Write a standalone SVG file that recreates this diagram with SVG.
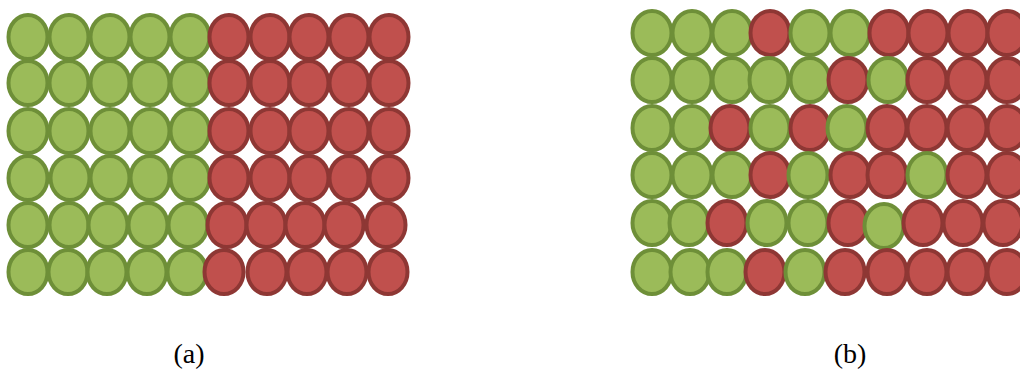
<svg xmlns="http://www.w3.org/2000/svg" width="1020" height="386" viewBox="0 0 1020 386">
<style>
.g{fill:#9BBB59;stroke:#6E8F38;stroke-width:4}
.r{fill:#C0504D;stroke:#8E3734;stroke-width:4}
ellipse{}
.lbl{font-family:"Liberation Serif","Times New Roman",serif;font-size:28px;fill:#000;text-anchor:middle}
</style>
<rect width="1020" height="386" fill="#fff"/>
<g id="panel-a">
<g id="a-row1">
<ellipse class="g" cx="28" cy="37" rx="19.5" ry="22"/><ellipse class="g" cx="69" cy="37" rx="19.5" ry="22"/><ellipse class="g" cx="110" cy="37" rx="19.5" ry="22"/><ellipse class="g" cx="150" cy="37" rx="19.5" ry="22"/><ellipse class="g" cx="190" cy="37" rx="19.5" ry="22"/>
<ellipse class="r" cx="229" cy="37" rx="19.5" ry="22"/><ellipse class="r" cx="270" cy="37" rx="19.5" ry="22"/><ellipse class="r" cx="309" cy="37" rx="19.5" ry="22"/><ellipse class="r" cx="349" cy="37" rx="19.5" ry="22"/><ellipse class="r" cx="389" cy="37" rx="19.5" ry="22"/>
</g>
<g id="a-row2">
<ellipse class="g" cx="28" cy="83" rx="19.5" ry="22"/><ellipse class="g" cx="69" cy="83" rx="19.5" ry="22"/><ellipse class="g" cx="110" cy="83" rx="19.5" ry="22"/><ellipse class="g" cx="150" cy="83" rx="19.5" ry="22"/><ellipse class="g" cx="190" cy="83" rx="19.5" ry="22"/>
<ellipse class="r" cx="229" cy="83" rx="19.5" ry="22"/><ellipse class="r" cx="270" cy="83" rx="19.5" ry="22"/><ellipse class="r" cx="309" cy="83" rx="19.5" ry="22"/><ellipse class="r" cx="349" cy="83" rx="19.5" ry="22"/><ellipse class="r" cx="389" cy="83" rx="19.5" ry="22"/>
</g>
<g id="a-row3">
<ellipse class="g" cx="28" cy="131" rx="19.5" ry="22"/><ellipse class="g" cx="69" cy="131" rx="19.5" ry="22"/><ellipse class="g" cx="110" cy="131" rx="19.5" ry="22"/><ellipse class="g" cx="150" cy="131" rx="19.5" ry="22"/><ellipse class="g" cx="190" cy="131" rx="19.5" ry="22"/>
<ellipse class="r" cx="229" cy="131" rx="19.5" ry="22"/><ellipse class="r" cx="270" cy="131" rx="19.5" ry="22"/><ellipse class="r" cx="309" cy="131" rx="19.5" ry="22"/><ellipse class="r" cx="349" cy="131" rx="19.5" ry="22"/><ellipse class="r" cx="389" cy="131" rx="19.5" ry="22"/>
</g>
<g id="a-row4">
<ellipse class="g" cx="28" cy="178" rx="19.5" ry="22"/><ellipse class="g" cx="70" cy="178" rx="19.5" ry="22"/><ellipse class="g" cx="110" cy="178" rx="19.5" ry="22"/><ellipse class="g" cx="150" cy="178" rx="19.5" ry="22"/><ellipse class="g" cx="190" cy="178" rx="19.5" ry="22"/>
<ellipse class="r" cx="229" cy="178" rx="19.5" ry="22"/><ellipse class="r" cx="270" cy="178" rx="19.5" ry="22"/><ellipse class="r" cx="309" cy="178" rx="19.5" ry="22"/><ellipse class="r" cx="349" cy="178" rx="19.5" ry="22"/><ellipse class="r" cx="389" cy="178" rx="19.5" ry="22"/>
</g>
<g id="a-row5">
<ellipse class="g" cx="28" cy="225" rx="19.5" ry="22"/><ellipse class="g" cx="69" cy="225" rx="19.5" ry="22"/><ellipse class="g" cx="108" cy="225" rx="19.5" ry="22"/><ellipse class="g" cx="148" cy="225" rx="19.5" ry="22"/><ellipse class="g" cx="188" cy="225" rx="19.5" ry="22"/>
<ellipse class="r" cx="227" cy="225" rx="19.5" ry="22"/><ellipse class="r" cx="266" cy="225" rx="19.5" ry="22"/><ellipse class="r" cx="305" cy="225" rx="19.5" ry="22"/><ellipse class="r" cx="344" cy="225" rx="19.5" ry="22"/><ellipse class="r" cx="386" cy="225" rx="19.5" ry="22"/>
</g>
<g id="a-row6">
<ellipse class="g" cx="28" cy="272" rx="19.5" ry="22"/><ellipse class="g" cx="68" cy="272" rx="19.5" ry="22"/><ellipse class="g" cx="107" cy="272" rx="19.5" ry="22"/><ellipse class="g" cx="147" cy="272" rx="19.5" ry="22"/><ellipse class="g" cx="187" cy="272" rx="19.5" ry="22"/>
<ellipse class="r" cx="224" cy="272" rx="19.5" ry="22"/><ellipse class="r" cx="267" cy="272" rx="19.5" ry="22"/><ellipse class="r" cx="307" cy="272" rx="19.5" ry="22"/><ellipse class="r" cx="347" cy="272" rx="19.5" ry="22"/><ellipse class="r" cx="388" cy="272" rx="19.5" ry="22"/>
</g>
</g>
<g id="panel-b">
<g id="b-row1">
<ellipse class="g" cx="652" cy="33" rx="19.5" ry="22"/><ellipse class="g" cx="692" cy="33" rx="19.5" ry="22"/><ellipse class="g" cx="732" cy="33" rx="19.5" ry="22"/><ellipse class="r" cx="770" cy="33" rx="19.5" ry="22"/><ellipse class="g" cx="810" cy="33" rx="19.5" ry="22"/>
<ellipse class="g" cx="850" cy="33" rx="19.5" ry="22"/><ellipse class="r" cx="889" cy="33" rx="19.5" ry="22"/><ellipse class="r" cx="928" cy="33" rx="19.5" ry="22"/><ellipse class="r" cx="968" cy="33" rx="19.5" ry="22"/><ellipse class="r" cx="1007" cy="33" rx="19.5" ry="22"/>
</g>
<g id="b-row2">
<ellipse class="g" cx="652" cy="80" rx="19.5" ry="22"/><ellipse class="g" cx="692" cy="80" rx="19.5" ry="22"/><ellipse class="g" cx="732" cy="80" rx="19.5" ry="22"/><ellipse class="g" cx="769" cy="80" rx="19.5" ry="22"/><ellipse class="g" cx="810" cy="80" rx="19.5" ry="22"/>
<ellipse class="r" cx="848" cy="80" rx="19.5" ry="22"/><ellipse class="g" cx="888" cy="80" rx="19.5" ry="22"/><ellipse class="r" cx="927" cy="80" rx="19.5" ry="22"/><ellipse class="r" cx="967" cy="80" rx="19.5" ry="22"/><ellipse class="r" cx="1007" cy="80" rx="19.5" ry="22"/>
</g>
<g id="b-row3">
<ellipse class="g" cx="652" cy="128" rx="19.5" ry="22"/><ellipse class="g" cx="692" cy="128" rx="19.5" ry="22"/><ellipse class="r" cx="730" cy="128" rx="19.5" ry="22"/><ellipse class="g" cx="770" cy="128" rx="19.5" ry="22"/><ellipse class="r" cx="810" cy="128" rx="19.5" ry="22"/>
<ellipse class="g" cx="847" cy="128" rx="19.5" ry="22"/><ellipse class="r" cx="887" cy="128" rx="19.5" ry="22"/><ellipse class="r" cx="927" cy="128" rx="19.5" ry="22"/><ellipse class="r" cx="967" cy="128" rx="19.5" ry="22"/><ellipse class="r" cx="1007" cy="128" rx="19.5" ry="22"/>
</g>
<g id="b-row4">
<ellipse class="g" cx="652" cy="175" rx="19.5" ry="22"/><ellipse class="g" cx="692" cy="175" rx="19.5" ry="22"/><ellipse class="g" cx="732" cy="175" rx="19.5" ry="22"/><ellipse class="r" cx="770" cy="175" rx="19.5" ry="22"/><ellipse class="g" cx="808" cy="175" rx="19.5" ry="22"/>
<ellipse class="r" cx="850" cy="175" rx="19.5" ry="22"/><ellipse class="r" cx="887" cy="175" rx="19.5" ry="22"/><ellipse class="g" cx="927" cy="175" rx="19.5" ry="22"/><ellipse class="r" cx="967" cy="175" rx="19.5" ry="22"/><ellipse class="r" cx="1007" cy="175" rx="19.5" ry="22"/>
</g>
<g id="b-row5">
<ellipse class="g" cx="652" cy="223" rx="19.5" ry="22"/><ellipse class="g" cx="689" cy="223" rx="19.5" ry="22"/><ellipse class="r" cx="727" cy="223" rx="19.5" ry="22"/><ellipse class="g" cx="767" cy="223" rx="19.5" ry="22"/><ellipse class="g" cx="808" cy="223" rx="19.5" ry="22"/>
<ellipse class="r" cx="848" cy="223" rx="19.5" ry="22"/><ellipse class="g" cx="884" cy="226" rx="19.5" ry="22"/><ellipse class="r" cx="923" cy="223" rx="19.5" ry="22"/><ellipse class="r" cx="963" cy="223" rx="19.5" ry="22"/><ellipse class="r" cx="1003" cy="223" rx="19.5" ry="22"/>
</g>
<g id="b-row6">
<ellipse class="g" cx="652" cy="272" rx="19.5" ry="22"/><ellipse class="g" cx="690" cy="272" rx="19.5" ry="22"/><ellipse class="g" cx="727" cy="272" rx="19.5" ry="22"/><ellipse class="r" cx="765" cy="272" rx="19.5" ry="22"/><ellipse class="g" cx="805" cy="272" rx="19.5" ry="22"/>
<ellipse class="r" cx="845" cy="272" rx="19.5" ry="22"/><ellipse class="r" cx="887" cy="272" rx="19.5" ry="22"/><ellipse class="r" cx="927" cy="272" rx="19.5" ry="22"/><ellipse class="r" cx="967" cy="272" rx="19.5" ry="22"/><ellipse class="r" cx="1007" cy="272" rx="19.5" ry="22"/>
</g>
</g>
<text class="lbl" x="189" y="363">(a)</text>
<text class="lbl" x="850" y="363">(b)</text>
</svg>
